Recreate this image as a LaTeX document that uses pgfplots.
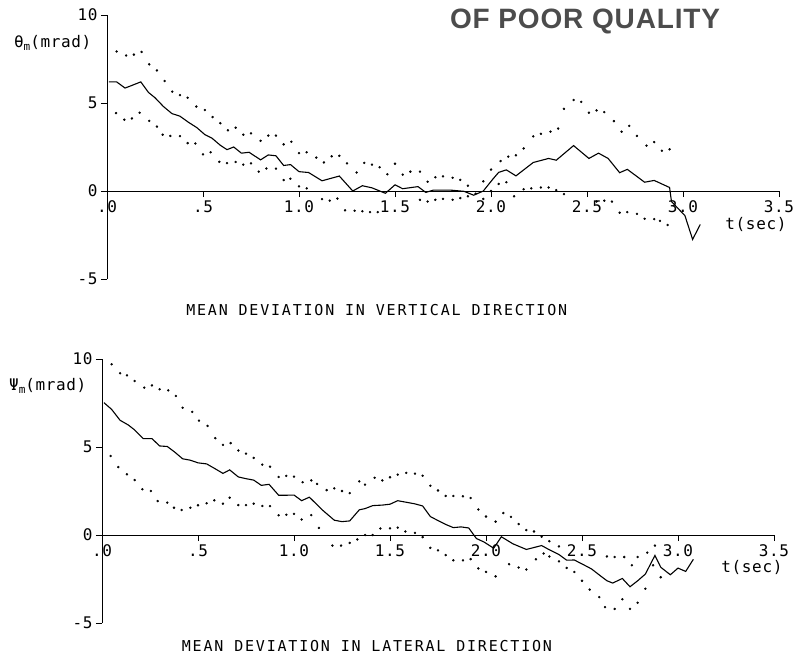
\documentclass[border=0pt]{standalone}
\usepackage{fontspec}
\usepackage{pgfplots}
\pgfplotsset{compat=1.18}
\newfontfamily\plotfont[LetterSpace=12]{DejaVu Sans Mono}
\newfontfamily\tickfam[LetterSpace=4]{DejaVu Sans Mono}
\newfontfamily\stampfont[LetterSpace=3]{Liberation Sans}
\newcommand\capfont{\plotfont\fontsize{15}{15}\selectfont}
\newcommand\tickfont{\tickfam\fontsize{16}{16}\selectfont}
\newcommand\subm{\raisebox{-0.4ex}{\fontsize{11}{11}\selectfont m}}

\pgfplotsset{
  devplot/.style={
    scale only axis, width=672pt, height=264pt,
    xmin=0, xmax=3.5, ymin=-5, ymax=10,
    axis x line*=middle, axis y line*=left,
    hide obscured x ticks=false, hide obscured y ticks=false,
    xtick={0,0.5,1,1.5,2,2.5,3,3.5},
    xticklabels={.0,.5,1.0,1.5,2.0,2.5,3.0,3.5},
    ytick={-5,0,5,10}, yticklabels={-5,0,5,10},
    tick align=outside, major tick length=6pt,
    tick style={line width=0.9pt, black},
    ticklabel style={font=\tickfont},
    axis line style={line width=0.9pt},
    clip=false,
  },
  meanline/.style={black, line width=1.1pt, no markers},
  band/.style={black, only marks, mark=*, mark size=1pt},
}

\begin{document}
\begin{tikzpicture}
\useasboundingbox (-107pt,-383pt) rectangle (688pt,279pt);

% ---- vertical direction ----
\begin{axis}[devplot, at={(0pt,0pt)}, anchor=south west]
\addplot[meanline] coordinates {
(0.01,6.2) (0.05,6.2) (0.094,5.85) (0.13,6.0) (0.176,6.2) (0.216,5.6)
(0.25,5.3) (0.294,4.8) (0.338,4.4) (0.38,4.25) (0.425,3.9) (0.468,3.6)
(0.51,3.2) (0.547,3.0) (0.59,2.6) (0.625,2.35) (0.66,2.5) (0.70,2.15)
(0.74,2.2) (0.80,1.77) (0.84,2.05) (0.88,2.0) (0.92,1.45) (0.956,1.5)
(1.0,1.1) (1.05,1.05) (1.12,0.58) (1.21,0.85) (1.28,0.0) (1.33,0.3)
(1.38,0.18) (1.45,-0.13) (1.50,0.35) (1.54,0.13) (1.62,0.25) (1.66,-0.08)
(1.70,0.05) (1.79,0.05) (1.86,-0.02) (1.91,-0.24) (1.96,0.0) (2.01,0.68)
(2.04,1.06) (2.08,1.2) (2.13,0.86) (2.22,1.62) (2.30,1.85) (2.34,1.75)
(2.43,2.58) (2.51,1.85) (2.56,2.15) (2.61,1.85) (2.67,1.04) (2.71,1.23)
(2.80,0.5) (2.85,0.6) (2.93,0.2) (2.94,-0.6) (3.01,-1.4) (3.05,-2.75)
(3.09,-1.9)
};
% upper bound
\addplot[band] coordinates {
(0.05,7.93) (0.10,7.7) (0.14,7.75) (0.18,7.9) (0.22,7.2) (0.26,6.85)
(0.30,6.25) (0.34,5.65) (0.38,5.45) (0.42,5.3) (0.465,4.8) (0.51,4.6)
(0.55,4.2) (0.59,3.85) (0.63,3.45) (0.67,3.6) (0.71,3.2) (0.75,3.27)
(0.80,2.85) (0.84,3.15) (0.88,3.15) (0.92,2.65) (0.96,2.8) (1.00,2.15)
(1.04,2.2) (1.09,1.9) (1.13,1.62) (1.17,1.97) (1.21,2.0) (1.25,1.57)
(1.30,1.05) (1.34,1.6) (1.38,1.5) (1.42,1.35) (1.46,0.95) (1.50,1.55)
(1.54,0.93) (1.58,1.1) (1.63,1.1) (1.67,0.53) (1.71,0.78) (1.75,0.83)
(1.80,0.75) (1.84,0.63) (1.88,0.3) (1.96,0.55) (2.00,1.22) (2.05,1.7)
(2.09,1.95) (2.13,2.03) (2.17,2.42) (2.22,3.1) (2.26,3.25) (2.31,3.37)
(2.35,3.55) (2.38,4.67) (2.43,5.17) (2.47,5.06) (2.51,4.45) (2.55,4.58)
(2.59,4.48) (2.64,3.97) (2.68,3.37) (2.72,3.7) (2.76,3.13) (2.81,2.58)
(2.85,2.78) (2.89,2.29) (2.93,2.37)
};
% lower bound
\addplot[band] coordinates {
(0.047,4.43) (0.09,4.05) (0.13,4.12) (0.17,4.45) (0.22,3.98) (0.26,3.66)
(0.29,3.2) (0.33,3.13) (0.38,3.12) (0.42,2.72) (0.46,2.7) (0.50,2.08)
(0.54,2.2) (0.585,1.66) (0.625,1.58) (0.67,1.65) (0.71,1.5) (0.75,1.57)
(0.79,1.1) (0.83,1.28) (0.88,1.27) (0.92,0.62) (0.955,0.7) (1.00,0.26)
(1.04,0.15) (1.12,-0.46) (1.16,-0.55) (1.20,-0.43) (1.24,-1.1) (1.29,-1.12)
(1.33,-1.15) (1.37,-1.2) (1.41,-1.2) (1.63,-0.5) (1.67,-0.6) (1.71,-0.5)
(1.75,-0.45) (1.80,-0.5) (1.84,-0.4) (1.88,-0.3) (1.92,-0.15) (1.96,-0.45)
(2.00,0.0) (2.04,0.4) (2.08,0.5) (2.12,-0.3) (2.17,0.1) (2.21,0.15)
(2.26,0.2) (2.30,0.2) (2.34,0.05) (2.38,-0.18) (2.55,-0.6) (2.59,-0.55)
(2.63,-0.6) (2.67,-1.23) (2.71,-1.2) (2.76,-1.3) (2.80,-1.58) (2.85,-1.6)
(2.88,-1.7) (2.92,-1.93)
};
\node[font=\tickfont, anchor=east] at (axis cs:-0.063,8.4) {θ\subm(mrad)};
\node[font=\tickfont] at (axis cs:3.38,-1.93) {t(sec)};
\node[font=\capfont] at (axis cs:1.405,-6.76) {MEAN DEVIATION IN VERTICAL DIRECTION};
\node[font=\stampfont\bfseries\fontsize{28}{28}\selectfont, text=black!70]
  at (axis cs:2.49,9.65) {OF POOR QUALITY};
\end{axis}

% ---- lateral direction ----
\begin{axis}[devplot, at={(-5pt,-344pt)}, anchor=south west]
\addplot[meanline] coordinates {
(0.01,7.52) (0.05,7.14) (0.094,6.52) (0.137,6.25) (0.17,5.97) (0.215,5.48)
(0.26,5.48) (0.30,5.06) (0.34,5.03) (0.38,4.7) (0.42,4.33) (0.46,4.25)
(0.50,4.1) (0.545,4.04) (0.59,3.76) (0.63,3.5) (0.665,3.7) (0.71,3.3)
(0.75,3.2) (0.79,3.12) (0.83,2.82) (0.87,2.88) (0.92,2.26) (0.96,2.26)
(1.00,2.27) (1.04,1.95) (1.08,2.15) (1.15,1.4) (1.21,0.84) (1.25,0.76)
(1.29,0.8) (1.34,1.43) (1.37,1.5) (1.41,1.67) (1.46,1.7) (1.50,1.75)
(1.54,1.95) (1.585,1.86) (1.63,1.77) (1.67,1.65) (1.71,1.05) (1.75,0.82)
(1.79,0.6) (1.83,0.42) (1.87,0.46) (1.91,0.4) (1.95,-0.2) (1.99,-0.4)
(2.04,-0.75) (2.08,-0.1) (2.14,-0.5) (2.21,-0.82) (2.29,-0.6) (2.33,-0.84)
(2.38,-1.11) (2.42,-1.43) (2.46,-1.42) (2.51,-1.7) (2.55,-1.93) (2.59,-2.27)
(2.63,-2.6) (2.66,-2.73) (2.71,-2.47) (2.75,-2.94) (2.79,-2.6) (2.83,-2.22)
(2.88,-1.16) (2.91,-1.83) (2.96,-2.26) (3.00,-1.88) (3.04,-2.07) (3.08,-1.38)
};
% upper bound
\addplot[band] coordinates {
(0.05,9.7) (0.094,9.19) (0.13,9.07) (0.17,8.75) (0.22,8.37) (0.26,8.5)
(0.30,8.28) (0.345,8.22) (0.385,7.9) (0.42,7.23) (0.47,7.0) (0.505,6.5)
(0.55,6.2) (0.59,5.5) (0.63,5.12) (0.67,5.22) (0.71,4.8) (0.75,4.62)
(0.79,4.38) (0.835,4.0) (0.875,3.88) (0.92,3.3) (0.96,3.36) (1.00,3.32)
(1.045,3.0) (1.09,3.1) (1.12,2.9) (1.17,2.55) (1.21,2.65) (1.25,2.5)
(1.29,2.38) (1.34,3.05) (1.37,2.86) (1.42,3.25) (1.46,3.1) (1.50,3.28)
(1.54,3.43) (1.585,3.53) (1.63,3.49) (1.67,3.37) (1.71,2.8) (1.75,2.53)
(1.79,2.22) (1.83,2.22) (1.88,2.2) (1.92,2.1) (1.96,1.45) (2.00,1.05)
(2.05,0.76) (2.09,1.25) (2.13,1.03) (2.17,0.62) (2.21,0.28) (2.25,0.2)
(2.29,-0.1) (2.33,-0.35) (2.38,-0.65) (2.63,-1.22) (2.67,-1.25) (2.72,-1.25)
(2.76,-1.72) (2.79,-1.25) (2.84,-1.0) (2.88,-0.6)
};
% lower bound
\addplot[band] coordinates {
(0.045,4.49) (0.085,3.86) (0.13,3.45) (0.17,3.12) (0.21,2.6) (0.255,2.5)
(0.29,1.93) (0.34,1.84) (0.375,1.55) (0.415,1.42) (0.46,1.55) (0.50,1.69)
(0.545,1.8) (0.585,1.97) (0.63,1.78) (0.665,2.12) (0.71,1.7) (0.75,1.7)
(0.79,1.78) (0.835,1.65) (0.875,1.64) (0.92,1.12) (0.96,1.15) (1.00,1.2)
(1.04,0.88) (1.09,1.13) (1.13,0.4) (1.20,-0.6) (1.245,-0.6) (1.29,-0.45)
(1.33,-0.25) (1.37,0.0) (1.41,0.0) (1.45,0.37) (1.50,0.38) (1.54,0.42)
(1.58,0.2) (1.63,0.12) (1.67,-0.12) (1.71,-0.73) (1.75,-0.87) (1.79,-1.14)
(1.83,-1.44) (1.88,-1.44) (1.92,-1.37) (1.96,-1.9) (2.00,-2.1) (2.05,-2.35)
(2.12,-1.66) (2.17,-1.85) (2.21,-1.96) (2.26,-1.38) (2.30,-1.05) (2.33,-1.22)
(2.38,-1.5) (2.42,-1.87) (2.46,-2.1) (2.50,-2.6) (2.54,-3.1) (2.59,-3.53)
(2.62,-4.1) (2.67,-4.2) (2.71,-3.65) (2.75,-4.2) (2.79,-3.85) (2.83,-3.05)
(2.87,-1.72) (2.91,-2.4)
};
\node[font=\tickfont, anchor=east] at (axis cs:-0.063,8.47) {Ψ\subm(mrad)};
\node[font=\tickfont] at (axis cs:3.385,-1.85) {t(sec)};
\node[font=\capfont] at (axis cs:1.38,-6.3) {MEAN DEVIATION IN LATERAL DIRECTION};
\end{axis}
\end{tikzpicture}
\end{document}
